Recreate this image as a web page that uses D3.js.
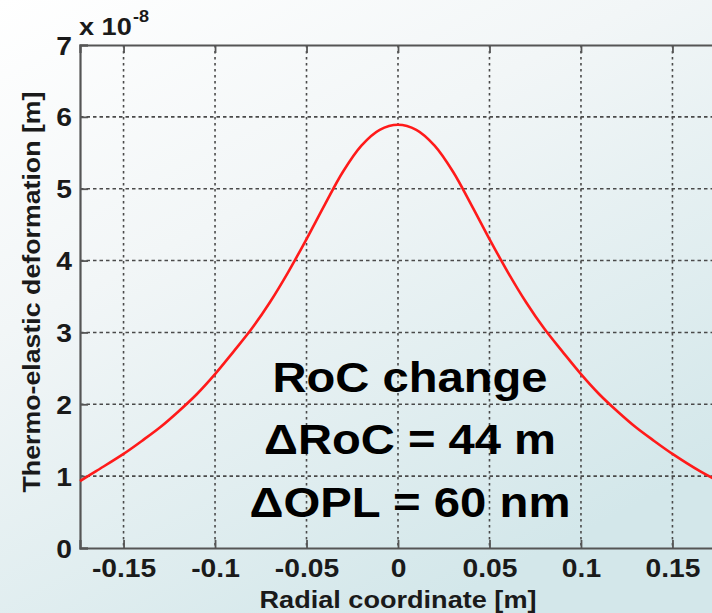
<!DOCTYPE html>
<html>
<head>
<meta charset="utf-8">
<script src="https://cdn.jsdelivr.net/npm/d3@7"></script>
<style>
  html, body { margin: 0; padding: 0; overflow: hidden; }
  svg { display: block; }
  text { font-family: "Liberation Sans", Arial, Helvetica, sans-serif; }
</style>
</head>
<body>
<svg id="chart" width="712" height="613"></svg>
<script>
// ---- data ----
const radial = [-0.1738, -0.165, -0.15, -0.14, -0.13, -0.12, -0.11, -0.10, -0.09, -0.08, -0.07, -0.06, -0.05, -0.04, -0.03, -0.02, -0.01, 0,
                 0.01, 0.02, 0.03, 0.04, 0.05, 0.06, 0.07, 0.08, 0.09, 0.10, 0.11, 0.12, 0.13, 0.14, 0.15, 0.165, 0.1738];
const deformation = [0.93, 1.07, 1.31, 1.49, 1.68, 1.90, 2.14, 2.42, 2.73, 3.05, 3.42, 3.84, 4.30, 4.78, 5.24, 5.60, 5.82, 5.89,
                     5.82, 5.60, 5.24, 4.78, 4.30, 3.84, 3.42, 3.05, 2.73, 2.42, 2.14, 1.90, 1.68, 1.49, 1.31, 1.07, 0.95];
const xTicks = [-0.15, -0.1, -0.05, 0, 0.05, 0.1, 0.15];
const xTickLabels = ["-0.15", "-0.1", "-0.05", "0", "0.05", "0.1", "0.15"];
const yTicks = [0, 1, 2, 3, 4, 5, 6, 7];
const yTickLabels = ["0", "1", "2", "3", "4", "5", "6", "7"];
const annotationLines = ["RoC change", "\u0394RoC = 44 m", "\u0394OPL = 60 nm"];
const xDomain = [-0.1738, 0.1738];
const yDomain = [0, 7];
const xLabel = "Radial coordinate [m]";
const yLabel = "Thermo-elastic deformation [m]";

(function () {
// ---- layout ----
const svg = d3.select("#chart");
const W = 712, H = 613;
const pLeft = 80, pRight = 716, pTop = 45, pBottom = 548;
const stretch = 1.13;

// background gradient
const defs = svg.append("defs");
const grad = defs.append("linearGradient").attr("id", "bg")
  .attr("x1", "0%").attr("y1", "0%").attr("x2", "60%").attr("y2", "100%");
grad.append("stop").attr("offset", "0%").attr("stop-color", "#ffffff");
grad.append("stop").attr("offset", "40%").attr("stop-color", "#f2f6f7");
grad.append("stop").attr("offset", "100%").attr("stop-color", "#d3e7ea");
svg.append("rect").attr("width", W).attr("height", H).attr("fill", "url(#bg)");

const x = d3.scaleLinear().domain(xDomain).range([pLeft, pRight]);
const y = d3.scaleLinear().domain(yDomain).range([pBottom, pTop]);

const gridColor = "#4a4a4a";

// grid lines
svg.append("g").selectAll("line").data(xTicks).join("line")
  .attr("x1", d => x(d)).attr("x2", d => x(d))
  .attr("y1", pTop).attr("y2", pBottom)
  .attr("stroke", gridColor).attr("stroke-width", 1.6)
  .attr("stroke-dasharray", "2.5,3.5");
svg.append("g").selectAll("line").data(yTicks.filter(d => d > 0 && d < 7)).join("line")
  .attr("x1", pLeft).attr("x2", pRight)
  .attr("y1", d => y(d)).attr("y2", d => y(d))
  .attr("stroke", gridColor).attr("stroke-width", 1.6)
  .attr("stroke-dasharray", "3.5,3");

// axes (box)
const axisColor = "#555";
const xAxisB = svg.append("g").attr("transform", `translate(0,${pBottom})`)
  .call(d3.axisBottom(x).tickValues(xTicks).tickSize(-8).tickPadding(12)
    .tickFormat((d, i) => xTickLabels[i]));
const xAxisT = svg.append("g").attr("transform", `translate(0,${pTop})`)
  .call(d3.axisTop(x).tickValues(xTicks).tickSize(-8).tickFormat(""));
const yAxisL = svg.append("g").attr("transform", `translate(${pLeft},0)`)
  .call(d3.axisLeft(y).tickValues(yTicks).tickSize(-8).tickPadding(8)
    .tickFormat((d, i) => yTickLabels[i]));
[xAxisB, xAxisT, yAxisL].forEach(g => {
  g.select(".domain").attr("stroke", axisColor).attr("stroke-width", 2.2);
  g.selectAll(".tick line").attr("stroke", axisColor).attr("stroke-width", 1.8);
});
xAxisB.selectAll(".tick text")
  .attr("font-size", 25).attr("font-weight", "bold").attr("fill", "#1a1a1a")
  .attr("y", 0).attr("dy", 0)
  .attr("transform", `translate(0,29) scale(${stretch},1)`);
yAxisL.selectAll(".tick text")
  .attr("font-size", 25).attr("font-weight", "bold").attr("fill", "#1a1a1a")
  .attr("x", 0).attr("dy", "0.36em")
  .attr("transform", `translate(-8,0) scale(${stretch},1)`);

// exponent label
const expo = svg.append("text").attr("transform", `translate(79,35) scale(${stretch},1)`)
  .attr("font-size", 24).attr("font-weight", "bold").attr("fill", "#1a1a1a");
expo.append("tspan").text("x 10");
expo.append("tspan").attr("font-size", 16).attr("dy", -13).attr("dx", 1).text("-8");

// axis labels
svg.append("text")
  .attr("x", 398).attr("y", 608)
  .attr("text-anchor", "middle")
  .attr("font-size", 24).attr("font-weight", "bold").attr("fill", "#1a1a1a")
  .attr("textLength", 277).attr("lengthAdjust", "spacingAndGlyphs")
  .text(xLabel);
svg.append("text")
  .attr("transform", "translate(40,292) rotate(-90)")
  .attr("text-anchor", "middle")
  .attr("font-size", 24).attr("font-weight", "bold").attr("fill", "#1a1a1a")
  .attr("textLength", 401).attr("lengthAdjust", "spacingAndGlyphs")
  .text(yLabel);

// curve
const pts = radial.map((r, i) => [r, deformation[i]]);
svg.append("path")
  .datum(pts)
  .attr("fill", "none")
  .attr("stroke", "#ff1a1a")
  .attr("stroke-width", 2.6)
  .attr("stroke-linejoin", "round")
  .attr("d", d3.line().x(d => x(d[0])).y(d => y(d[1])).curve(d3.curveCatmullRom.alpha(0.5)));

// annotation
const annBaselines = [392, 454, 517];
const annWidths = [275, 292, 321];
svg.append("g").selectAll("text").data(annotationLines).join("text")
  .attr("x", 410).attr("y", (d, i) => annBaselines[i])
  .attr("text-anchor", "middle")
  .attr("font-size", 42).attr("font-weight", "bold").attr("fill", "#000")
  .attr("textLength", (d, i) => annWidths[i]).attr("lengthAdjust", "spacingAndGlyphs")
  .text(d => d);
})();
</script>
</body>
</html>
